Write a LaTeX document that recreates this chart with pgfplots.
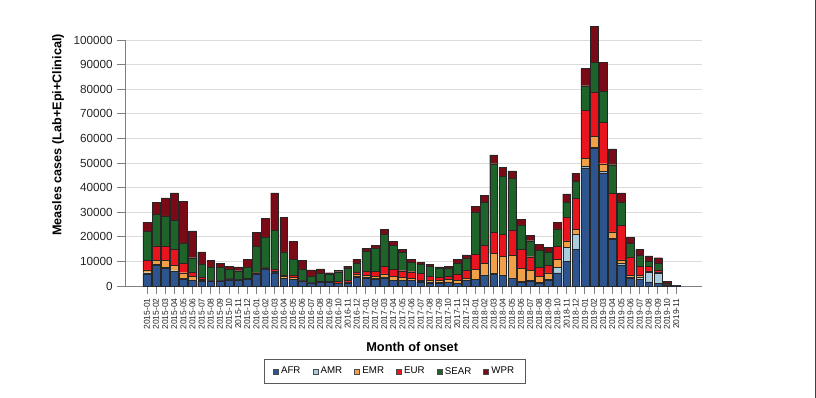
\documentclass[border=0pt]{standalone}
\usepackage{pgfplots}
\pgfplotsset{compat=1.18}
\usepackage{pgfplotstable}
\usepackage{fontspec}
\setmainfont{Liberation Sans}
\definecolor{afr}{RGB}{46,84,142}
\definecolor{amr}{RGB}{170,205,222}
\definecolor{emr}{RGB}{240,160,70}
\definecolor{eur}{RGB}{232,20,30}
\definecolor{sear}{RGB}{30,100,42}
\definecolor{wpr}{RGB}{122,10,22}
\pgfplotstableread{
x label AFR AMR EMR EUR SEAR WPR
0 2015-01 4900 500 1200 3800 11900 3600
1 2015-02 8300 400 1800 5800 12700 5100
2 2015-03 7300 300 2700 6000 12200 7300
3 2015-04 6000 200 2300 6500 11700 11200
4 2015-05 2900 200 2300 3800 8300 17000
5 2015-06 2200 200 1600 1500 6000 10900
6 2015-07 2000 200 600 600 5400 5100
7 2015-08 2000 100 200 200 5300 2500
8 2015-09 2000 100 100 200 5200 1600
9 2015-10 2500 300 100 200 3900 1100
10 2015-11 2500 100 100 100 3400 1600
11 2015-12 2700 100 200 200 4600 3000
12 2016-01 4700 500 200 200 10600 5700
13 2016-02 7000 200 200 200 12400 7500
14 2016-03 5400 100 600 800 15800 15200
15 2016-04 3000 100 700 700 9400 13900
16 2016-05 2700 100 700 1000 6300 7400
17 2016-06 1900 100 100 200 4700 3500
18 2016-07 1200 100 100 200 2500 2500
19 2016-08 1400 100 100 200 3300 1900
20 2016-09 1400 100 100 200 3100 500
21 2016-10 1000 100 200 700 3800 700
22 2016-11 1300 100 300 700 5000 700
23 2016-12 3600 200 1100 800 3700 1400
24 2017-01 3200 200 800 1700 8400 900
25 2017-02 2800 200 1000 1900 9600 1000
26 2017-03 3300 200 1400 3200 13000 1800
27 2017-04 2200 200 1400 2900 9900 1600
28 2017-05 2200 200 1100 2700 7600 1200
29 2017-06 2200 200 700 2700 3900 1100
30 2017-07 1600 200 600 2700 3700 800
31 2017-08 1300 200 700 1600 4400 700
32 2017-09 1200 200 1000 1100 3700 600
33 2017-10 1400 200 1100 1300 3400 700
34 2017-11 1000 200 1200 2500 4500 1400
35 2017-12 2200 200 700 3400 4600 1500
36 2018-01 2600 200 3900 6300 17100 2300
37 2018-02 4300 200 4700 7400 17500 2700
38 2018-03 4900 200 8100 8500 28000 3600
39 2018-04 4300 200 7600 8800 23600 3800
40 2018-05 3000 300 9100 10100 21300 3000
41 2018-06 1700 300 5200 7800 9800 2400
42 2018-07 1900 300 4100 5600 6500 2300
43 2018-08 1200 400 2200 3800 7000 2200
44 2018-09 2300 300 2700 3100 5400 2000
45 2018-10 5300 2400 3000 5400 7100 2700
46 2018-11 10000 5800 2500 9700 6000 3400
47 2018-12 14800 6100 2000 12600 7000 3400
48 2019-01 48000 500 3500 19300 10100 7000
49 2019-02 56000 500 4200 18200 12100 14600
50 2019-03 46000 500 3200 16800 12600 11700
51 2019-04 19100 400 2500 15800 11500 6400
52 2019-05 8600 500 1500 14100 9400 3800
53 2019-06 3000 700 700 7400 5400 2700
54 2019-07 2600 1100 700 3600 4500 2300
55 2019-08 1700 3800 600 1900 2200 2000
56 2019-09 1000 4100 600 900 2700 2200
57 2019-10 300 200 100 400 300 500
58 2019-11 100 50 20 30 0 0
}\data
\pgfplotsset{sqlegend/.style={legend image code/.code={\draw[##1,line width=0.3pt,draw=black!70] (0pt,-1.9pt) rectangle (3.8pt,1.9pt);}}}
\begin{document}
\begin{tikzpicture}[x=1pt,y=1pt]
\path[fill=white, use as bounding box] (0,0) rectangle (612,298.5);
\draw[black!75, line width=0.75pt] (611.6,0) -- (611.6,298.5);
\begin{axis}[at={(93.75pt,84pt)}, anchor=south west, scale only axis,
  width=432.5pt, height=184.5pt,
  ybar stacked, bar width=0.86,
  xmin=-2.4, xmax=60.8, ymin=0, ymax=100000, clip=false,
  axis x line*=bottom, axis y line*=left,
  axis line style={black!50, line width=0.6pt},
  xtick=data, xticklabels from table={\data}{label},
  ytick={0,10000,...,100000},
  tick align=outside, major tick length=5.7pt,
  tick style={black!50, line width=0.6pt},
  ymajorgrids, grid style={black!14, line width=0.6pt},
  scaled y ticks=false,
  /pgf/number format/fixed,
  /pgf/number format/precision=0,
  /pgf/number format/set thousands separator={},
  /pgf/number format/assume math mode=true,
  yticklabel style={font=\fontsize{8.8}{10}\selectfont, text=black!85},
  xticklabel style={rotate=90, anchor=east, font=\fontsize{6.4}{7}\selectfont, text=black!85},
  ylabel={Measles cases (Lab+Epi+Clinical)},
  ylabel style={at={(rel axis cs:-0.116,0.614)}, anchor=center, font=\bfseries\fontsize{9.5}{11}\selectfont},
  xlabel={Month of onset},
  xlabel style={at={(rel axis cs:0.498,-0.247)}, anchor=center, font=\bfseries\fontsize{9.6}{11}\selectfont},
  legend columns=6,
  legend style={at={(rel axis cs:0.468,-0.348)}, anchor=center, draw=black!65, line width=0.5pt,
    font=\fontsize{7.3}{8.5}\selectfont, inner xsep=6.5pt, inner ysep=3.8pt,
    /tikz/every even column/.append style={column sep=7pt}},
]
\addplot[fill=afr, draw=black!85, line width=0.3pt, sqlegend] table[x=x,y=AFR]{\data};
\addplot[fill=amr, draw=black!85, line width=0.3pt, sqlegend] table[x=x,y=AMR]{\data};
\addplot[fill=emr, draw=black!85, line width=0.3pt, sqlegend] table[x=x,y=EMR]{\data};
\addplot[fill=eur, draw=black!85, line width=0.3pt, sqlegend] table[x=x,y=EUR]{\data};
\addplot[fill=sear, draw=black!85, line width=0.3pt, sqlegend] table[x=x,y=SEAR]{\data};
\addplot[fill=wpr, draw=black!85, line width=0.3pt, sqlegend] table[x=x,y=WPR]{\data};
\legend{AFR,AMR,EMR,EUR,SEAR,WPR}
\end{axis}
\end{tikzpicture}
\end{document}
